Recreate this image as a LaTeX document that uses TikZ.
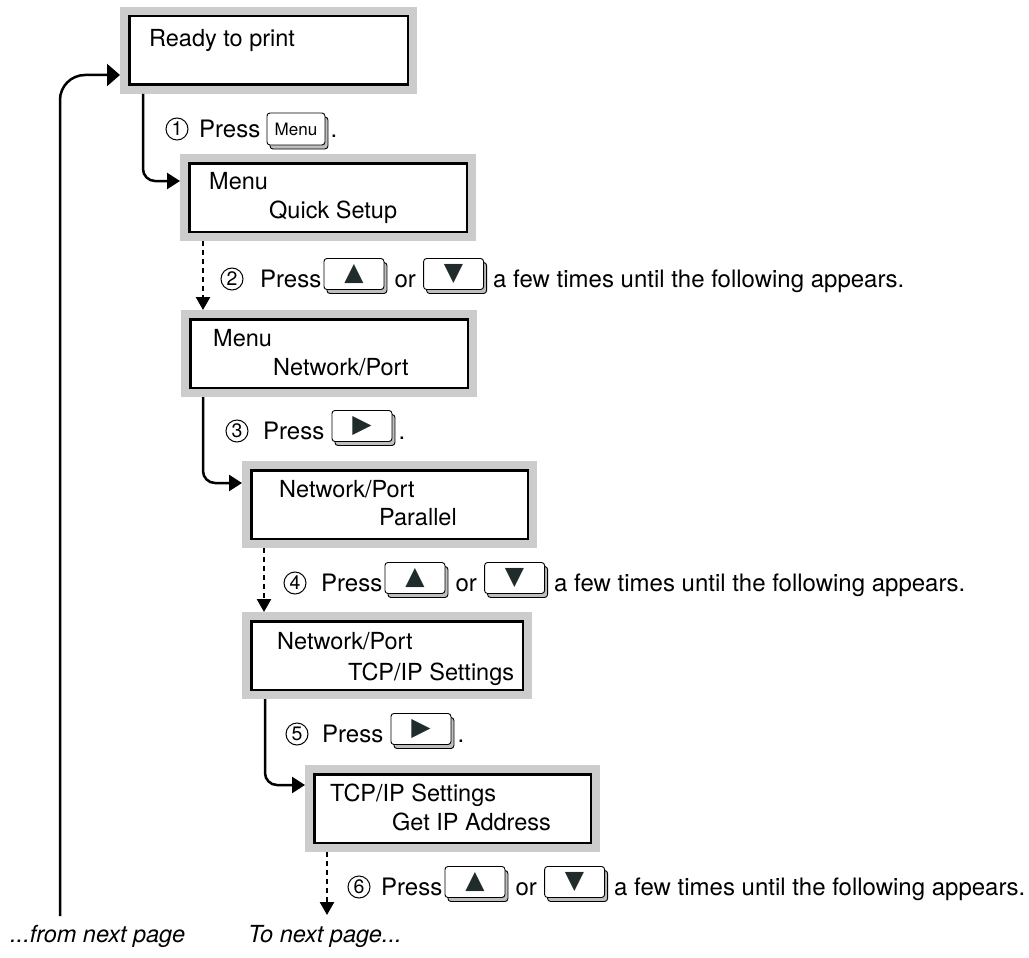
\documentclass[tikz,border=0pt]{standalone}
\usepackage{fontspec}
\setmainfont{TeX Gyre Heros}
\newfontfamily\symfont{DejaVu Sans}
\usetikzlibrary{arrows.meta,calc,shadows}
\definecolor{lcdgray}{RGB}{204,204,204}
\definecolor{keyshade}{RGB}{190,190,190}
\definecolor{tri}{RGB}{32,44,44}
\tikzset{
  lcd/.style={draw=black, line width=2.5pt, fill=white,
    preaction={draw=lcdgray, line width=18.5pt},
    inner sep=0pt, outer sep=9.25pt, minimum height=68.5pt, anchor=north west},
  boxtxt/.style={font=\fontsize{23.5}{28}\selectfont, inner sep=0pt, anchor=base west},
  lbl/.style={font=\fontsize{24}{28}\selectfont, inner sep=0pt, anchor=base west},
  ilbl/.style={font=\fontsize{23.5}{28}\selectfont\itshape, inner sep=0pt, anchor=base west},
  num/.style={circle, draw=black, line width=1pt, minimum size=22pt, inner sep=0pt,
    font=\fontsize{19.5}{19.5}\selectfont},
  keybase/.style={draw=black, line width=0.9pt, fill=white, rounded corners=3pt,
    inner sep=0pt, anchor=west,
    general shadow={draw=black, fill=keyshade, line width=0.9pt,
      shadow xshift=3pt, shadow yshift=-4pt}},
  arrkey/.style={keybase, minimum width=60pt, minimum height=31pt,
    font=\symfont\fontsize{25}{25}\selectfont\color{tri}},
  menukey/.style={keybase, minimum width=58pt, minimum height=32pt,
    font=\fontsize{17}{18}\selectfont},
  conn/.style={line width=2.5pt, -{Triangle[length=13pt,width=16pt]}},
  dotconn/.style={line width=2.5pt, dash pattern=on 5pt off 4pt,
    -{Triangle[length=13pt,width=14pt]}},
}
\begin{document}
\begin{tikzpicture}[x=1pt,y=-1pt]
\useasboundingbox (0,0) rectangle (1029,958);

% LCD boxes
\node[lcd, minimum width=278.5pt] (b1) at (120,7) {};
\node[lcd, minimum width=277.5pt] (b2) at (180,154) {};
\node[lcd, minimum width=277.5pt] (b3) at (181,310) {};
\node[lcd, minimum width=276.5pt] (b4) at (242,461) {};
\node[lcd, minimum width=271.5pt] (b5) at (242,612) {};
\node[lcd, minimum width=276.5pt] (b6) at (305,765) {};

\node[boxtxt] (b1a) at ($(b1.north west)+(29,40)$) {Ready to print};
\node[boxtxt] (b2a) at ($(b2.north west)+(29,35)$) {Menu};
\node[boxtxt] (b2b) at ($(b2.north west)+(89,64)$) {Quick Setup};
\node[boxtxt] (b3a) at ($(b3.north west)+(32,36)$) {Menu};
\node[boxtxt] (b3b) at ($(b3.north west)+(92,65)$) {Network/Port};
\node[boxtxt] (b4a) at ($(b4.north west)+(37,36)$) {Network/Port};
\node[boxtxt] (b4b) at ($(b4.north west)+(137,64)$) {Parallel};
\node[boxtxt] (b5a) at ($(b5.north west)+(35,37)$) {Network/Port};
\node[boxtxt] (b5b) at ($(b5.north west)+(106,68)$) {TCP/IP Settings};
\node[boxtxt] (b6a) at ($(b6.north west)+(25,36)$) {TCP/IP Settings};
\node[boxtxt] (b6b) at ($(b6.north west)+(87,65)$) {Get IP Address};

% free ends
\coordinate (fromnext) at (60,916);
\coordinate (tonext) at (327,915);

% connectors
\draw[conn, rounded corners=25pt, -{Triangle[length=13pt,width=22pt]}]
  (fromnext) |- ($(b1.north west)+(0,68)$);
\draw[conn, rounded corners=12pt] ($(b1.south west)+(23,0)$) |- ($(b2.north west)+(0,27)$);
\draw[dotconn] ($(b2.south west)+(23,0)$) -- ($(b2.south west |- b3.north)+(23,0)$);
\draw[conn, rounded corners=12pt] ($(b3.south west)+(22,0)$) |- ($(b4.north west)+(0,22)$);
\draw[dotconn] ($(b4.south west)+(22,0)$) -- ($(b4.south west |- b5.north)+(22,0)$);
\draw[conn, rounded corners=12pt] ($(b5.south west)+(23,0)$) |- ($(b6.north west)+(0,20)$);
\draw[dotconn] ($(b6.south west)+(22,0)$) -- (tonext);

% Row 1
\node[num] (n1) at (177,129) {1};
\node[lbl] (p1) at (199,137) {Press};
\node[menukey] (k1) at ($(p1.base east)+(6,-8)$) {Menu};
\node[lbl] (d1) at ($(k1.east |- p1.base)+(5,0)$) {.};

% Row 2
\node[num] (n2) at (232,279) {2};
\node[lbl] (p2) at (260,287) {Press};
\node[arrkey] (k2a) at ($(p2.base east)+(2,-13)$) {▲};
\node[lbl] (o2) at ($(k2a.east |- p2.base)+(10,0)$) {or};
\node[arrkey] (k2b) at ($(o2.base east)+(7,-13)$) {▼};
\node[lbl] (t2) at ($(k2b.east |- p2.base)+(9,0)$) {a few times until the following appears.};

% Row 3
\node[num] (n3) at (237,431) {3};
\node[lbl] (p3) at (263,439) {Press};
\node[arrkey] (k3) at ($(p3.base east)+(7,-13)$) {▶};
\node[lbl] (d3) at ($(k3.east |- p3.base)+(6,0)$) {.};

% Row 4
\node[num] (n4) at (295,583) {4};
\node[lbl] (p4) at (321,591) {Press};
\node[arrkey] (k4a) at ($(p4.base east)+(2,-13)$) {▲};
\node[lbl] (o4) at ($(k4a.east |- p4.base)+(10,0)$) {or};
\node[arrkey] (k4b) at ($(o4.base east)+(7,-13)$) {▼};
\node[lbl] (t4) at ($(k4b.east |- p4.base)+(9,0)$) {a few times until the following appears.};

% Row 5
\node[num] (n5) at (297,734) {5};
\node[lbl] (p5) at (322,742) {Press};
\node[arrkey] (k5) at ($(p5.base east)+(7,-13)$) {▶};
\node[lbl] (d5) at ($(k5.east |- p5.base)+(6,0)$) {.};

% Row 6
\node[num] (n6) at (359,887) {6};
\node[lbl] (p6) at (381,895) {Press};
\node[arrkey] (k6a) at ($(p6.base east)+(2,-13)$) {▲};
\node[lbl] (o6) at ($(k6a.east |- p6.base)+(10,0)$) {or};
\node[arrkey] (k6b) at ($(o6.base east)+(7,-13)$) {▼};
\node[lbl] (t6) at ($(k6b.east |- p6.base)+(9,0)$) {a few times until the following appears.};

% bottom notes
\node[ilbl] (fn) at (10,942) {...from next page};
\node[ilbl] (tn) at (248,942) {To next page...};
\end{tikzpicture}
\end{document}
